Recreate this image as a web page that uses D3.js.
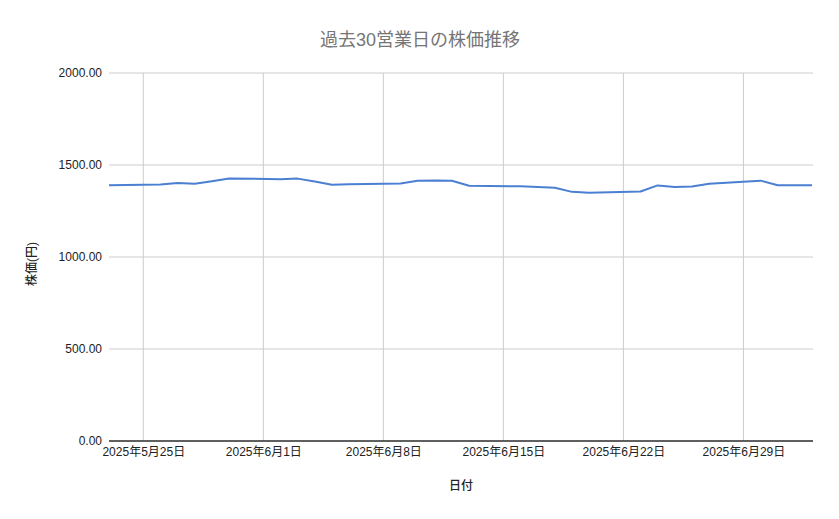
<!DOCTYPE html>
<html>
<head>
<meta charset="utf-8">
<script src="https://cdn.jsdelivr.net/npm/d3@7"></script>
<style>
  body { margin: 0; background: #fff; }
  text { font-family: "Liberation Sans", "Noto Sans CJK JP", sans-serif; }
</style>
</head>
<body>
<svg id="chart" width="839" height="519"></svg>
<script>
// 営業日と終値
const dates = [
  "2025-05-23",
  "2025-05-26", "2025-05-27", "2025-05-28", "2025-05-29", "2025-05-30",
  "2025-06-02", "2025-06-03", "2025-06-04", "2025-06-05", "2025-06-06",
  "2025-06-09", "2025-06-10", "2025-06-11", "2025-06-12", "2025-06-13",
  "2025-06-16", "2025-06-17", "2025-06-18", "2025-06-19", "2025-06-20",
  "2025-06-23", "2025-06-24", "2025-06-25", "2025-06-26", "2025-06-27",
  "2025-06-30", "2025-07-01", "2025-07-02", "2025-07-03"
]
const prices = [
  1390,
  1394, 1402, 1398, 1412, 1427,
  1423, 1426, 1410, 1393, 1395,
  1399, 1414, 1416, 1414, 1387,
  1384, 1381, 1376, 1354, 1349,
  1356, 1389, 1381, 1383, 1398,
  1415, 1390, 1390, 1390
]
const tickDates = ["2025-05-25", "2025-06-01", "2025-06-08", "2025-06-15", "2025-06-22", "2025-06-29"]
const yTicks = [0, 500, 1000, 1500, 2000]

const parse = d3.timeParse("%Y-%m-%d")
const data = dates.map((d, i) => ({ date: parse(d), price: prices[i] }))

const mLeft = 109, mRight = 812, mTop = 73, mBottom = 441

const x = d3.scaleTime()
  .domain([parse("2025-05-23"), parse("2025-07-03")])
  .range([mLeft, mRight])
const y = d3.scaleLinear()
  .domain([0, 2000])
  .range([mBottom, mTop])

const svg = d3.select("#chart")

// title
svg.append("text")
  .attr("x", 420).attr("y", 46)
  .attr("text-anchor", "middle")
  .style("font-size", "18px")
  .style("fill", "#757575")
  .text("過去30営業日の株価推移")

// grid
svg.append("g")
  .selectAll("line")
  .data(yTicks)
  .join("line")
  .attr("x1", mLeft).attr("x2", 813)
  .attr("y1", d => y(d)).attr("y2", d => y(d))
  .style("stroke", "#cccccc")

svg.append("g")
  .selectAll("line")
  .data(tickDates.map(parse))
  .join("line")
  .attr("x1", d => x(d)).attr("x2", d => x(d))
  .attr("y1", mTop).attr("y2", mBottom)
  .style("stroke", "#cccccc")

// y axis labels
const yAxis = svg.append("g")
  .attr("transform", `translate(${mLeft},0)`)
  .call(d3.axisLeft(y).tickValues(yTicks).tickFormat(d3.format(".2f")).tickSize(0).tickPadding(7))
yAxis.select(".domain").remove()
yAxis.selectAll("text")
  .style("font-size", "12px")
  .style("fill", "#222")
  .style("font-family", "'Liberation Sans', 'Noto Sans CJK JP', sans-serif")

// x axis labels
const fmt = d => `${d.getFullYear()}年${d.getMonth() + 1}月${d.getDate()}日`
const xAxis = svg.append("g")
  .attr("transform", `translate(0,${mBottom})`)
  .call(d3.axisBottom(x).tickValues(tickDates.map(parse)).tickFormat(fmt).tickSize(0).tickPadding(6))
xAxis.select(".domain").remove()
xAxis.selectAll("text")
  .style("font-size", "12px")
  .style("fill", "#222")
  .style("font-family", "'Liberation Sans', 'Noto Sans CJK JP', sans-serif")

// baseline
svg.append("line")
  .attr("x1", mLeft).attr("x2", 813)
  .attr("y1", mBottom).attr("y2", mBottom)
  .style("stroke", "#333333")
  .style("stroke-width", 1.3)

// line
svg.append("path")
  .datum(data)
  .attr("d", d3.line().x(d => x(d.date)).y(d => y(d.price)))
  .style("fill", "none")
  .style("stroke", "#4a7fd2")
  .style("stroke-width", 2)
  .style("stroke-linejoin", "round")

// axis titles
svg.append("text")
  .attr("x", 461).attr("y", 490)
  .attr("text-anchor", "middle")
  .style("font-size", "12px")
  .style("font-weight", "500")
  .style("fill", "#222")
  .text("日付")

svg.append("text")
  .attr("transform", "translate(36,264) rotate(-90)")
  .attr("text-anchor", "middle")
  .style("font-size", "12px")
  .style("font-weight", "500")
  .style("fill", "#222")
  .text("株価(円)")
</script>
</body>
</html>
